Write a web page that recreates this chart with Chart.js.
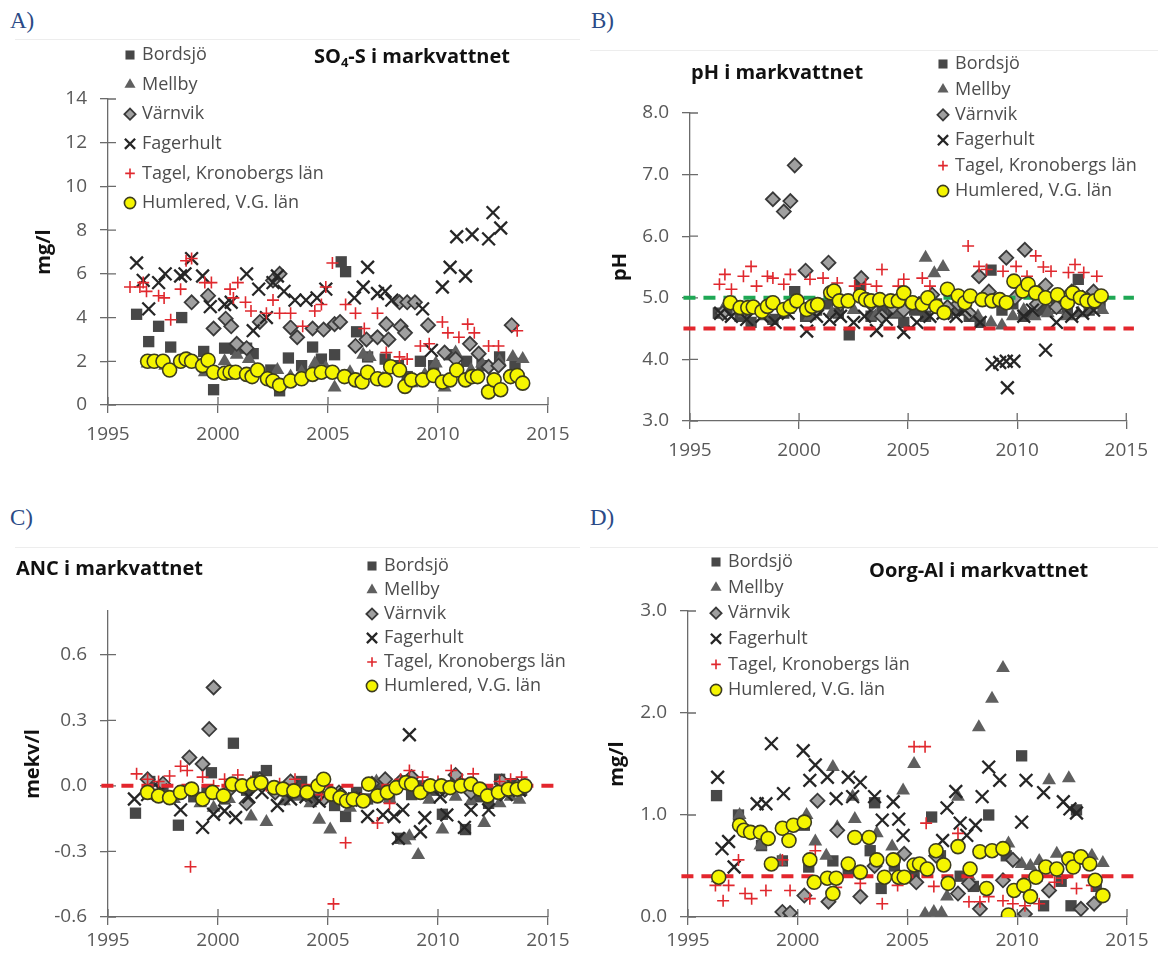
<!DOCTYPE html>
<html>
<head>
<meta charset="utf-8">
<script src="https://cdn.jsdelivr.net/npm/chart.js@4.4.1/dist/chart.umd.min.js"></script>
<style>
    body { margin: 0; background: #fff; }
    #page { position: relative; width: 1158px; height: 962px; overflow: hidden; background: #fff; }
    .tag { position: absolute; font-family: 'Liberation Serif', 'DejaVu Serif', serif; font-size: 23px; color: #2b4a86; }
    .frame { position: absolute; height: 0; border-top: 1px solid #ededed; }
    canvas { position: absolute; }
</style>
</head>
<body>
<div id="page">
    <div class="tag" style="left:10px;top:8px">A)</div>
    <div class="tag" style="left:591px;top:8px">B)</div>
    <div class="tag" style="left:10px;top:505px">C)</div>
    <div class="tag" style="left:590px;top:505px">D)</div>
    <div class="frame" style="left:15px;top:39px;width:565px"></div>
    <div class="frame" style="left:590px;top:50px;width:568px"></div>
    <div class="frame" style="left:15px;top:547px;width:565px"></div>
    <div class="frame" style="left:590px;top:547px;width:568px"></div>
    <canvas id="chA" width="580" height="430" style="left:0;top:40px"></canvas>
    <canvas id="chB" width="578" height="440" style="left:580px;top:40px"></canvas>
    <canvas id="chC" width="580" height="422" style="left:0;top:540px"></canvas>
    <canvas id="chD" width="578" height="422" style="left:580px;top:540px"></canvas>
</div>
<script>
// Sites (legend order)
const SITES = ['Bordsjö', 'Mellby', 'Värnvik', 'Fagerhult', 'Tagel, Kronobergs län', 'Humlered, V.G. län'];
const X_TICKS = [1995, 2000, 2005, 2010, 2015];
const REF_SPAN = [1994.7, 2015.35];

// A) SO4-S i markvattnet (mg/l)  [year, value]
const aTicks = [0, 2, 4, 6, 8, 10, 12, 14];
const aBordsjo = [[1996.3,4.15],[1996.85,2.9],[1997.3,3.6],[1997.85,2.65],[1998.35,4.0],[1999.35,2.45],[1999.8,0.7],[2000.3,2.6],[2000.8,2.55],[2001.3,2.6],[2001.6,2.35],[2002.4,1.6],[2002.8,0.65],[2003.2,2.15],[2003.8,1.8],[2004.3,2.65],[2004.7,2.1],[2005.3,2.3],[2005.6,6.55],[2005.8,6.1],[2006.3,3.35],[2006.8,2.2],[2007.6,2.1],[2008.2,1.8],[2008.6,1.3],[2009.2,2.0],[2009.8,1.8],[2010.5,2.3],[2011.3,2.0],[2012.0,1.8],[2012.8,2.2],[2013.5,1.9]];
const aMellby = [[1996.8,1.9],[1997.6,1.8],[1998.6,2.1],[1999.4,1.5],[2000.3,2.0],[2000.85,2.3],[2001.4,2.1],[2002.0,1.5],[2002.7,1.6],[2003.3,1.3],[2003.8,1.5],[2004.4,1.9],[2004.9,1.7],[2005.3,0.8],[2006.0,1.5],[2006.6,2.3],[2006.9,2.2],[2007.5,1.2],[2008.1,1.6],[2008.8,1.0],[2009.4,1.4],[2009.9,1.9],[2010.3,0.8],[2010.8,2.4],[2011.5,1.6],[2012.0,1.9],[2012.8,2.0],[2013.4,2.2],[2013.85,2.1]];
const aVarnvik = [[1998.8,4.7],[1999.55,5.0],[1999.8,3.5],[2000.35,3.95],[2000.6,3.6],[2000.85,2.8],[2001.3,2.6],[2001.9,3.8],[2002.5,5.7],[2002.8,6.0],[2003.3,3.55],[2003.6,3.1],[2004.3,3.5],[2004.8,3.45],[2005.3,3.7],[2005.55,3.8],[2006.25,2.7],[2006.75,3.0],[2007.25,3.1],[2007.65,3.7],[2007.75,3.0],[2008.25,4.7],[2008.6,4.7],[2008.95,4.7],[2008.3,3.6],[2008.5,3.3],[2009.55,3.65],[2010.3,2.4],[2010.8,2.1],[2011.45,2.8],[2011.85,2.35],[2012.3,1.75],[2012.75,1.8],[2013.35,3.65]];
const aFagerhult = [[1996.3,6.5],[1996.6,5.7],[1996.85,4.4],[1997.3,5.6],[1997.6,6.0],[1998.3,5.9],[1998.5,6.0],[1998.8,6.7],[1999.3,5.9],[1999.65,4.5],[2000.3,4.6],[2000.6,4.7],[2001.3,6.0],[2001.6,3.4],[2001.85,5.3],[2002.2,4.0],[2002.5,5.6],[2002.7,5.9],[2003.0,5.2],[2003.5,4.8],[2004.0,4.8],[2004.5,4.9],[2004.9,5.3],[2006.2,4.9],[2006.6,5.4],[2006.8,6.3],[2007.25,5.1],[2007.6,5.2],[2007.9,4.8],[2009.3,4.4],[2009.7,2.5],[2010.2,5.4],[2010.55,6.3],[2010.85,7.7],[2011.25,5.9],[2011.55,7.8],[2012.3,7.6],[2012.5,8.8],[2012.85,8.1]];
const aTagel = [[1996.0,5.4],[1996.45,5.4],[1996.6,5.6],[1996.75,5.2],[1997.3,5.0],[1997.55,4.9],[1997.85,3.9],[1998.3,5.3],[1998.55,6.6],[1998.8,6.7],[1999.4,5.6],[1999.7,5.6],[2000.55,5.3],[2000.7,4.9],[2000.9,5.6],[2001.25,4.7],[2001.5,4.3],[2002.2,4.2],[2002.5,4.8],[2002.8,4.2],[2003.3,4.2],[2003.85,3.6],[2004.4,4.3],[2004.7,4.6],[2004.9,5.4],[2005.2,6.5],[2005.8,4.6],[2006.25,4.2],[2006.65,3.5],[2007.25,4.2],[2007.65,2.4],[2008.25,2.2],[2008.6,2.1],[2009.2,2.7],[2009.6,2.8],[2010.2,3.8],[2010.45,3.3],[2010.95,3.1],[2011.35,3.7],[2011.65,3.3],[2012.3,2.7],[2012.75,2.7],[2013.6,3.4]];
const aHumlered = [[1996.8,2.0],[1997.1,2.0],[1997.5,2.0],[1997.8,1.6],[1998.3,2.0],[1998.55,2.1],[1998.8,2.0],[1999.3,1.8],[1999.55,2.05],[1999.8,1.5],[2000.3,1.45],[2000.55,1.5],[2000.8,1.5],[2001.3,1.4],[2001.55,1.3],[2001.8,1.6],[2002.25,1.2],[2002.5,1.1],[2002.8,0.9],[2003.3,1.1],[2003.8,1.2],[2004.3,1.4],[2004.7,1.5],[2005.2,1.5],[2005.75,1.3],[2006.25,1.15],[2006.55,1.05],[2006.8,1.5],[2007.25,1.2],[2007.6,1.15],[2007.85,1.75],[2008.25,1.6],[2008.5,0.85],[2008.8,1.15],[2009.3,1.15],[2009.8,1.35],[2010.2,1.05],[2010.55,1.15],[2010.85,1.6],[2011.25,1.15],[2011.55,1.3],[2011.8,1.3],[2012.3,0.6],[2012.55,1.15],[2012.85,0.7],[2013.3,1.3],[2013.6,1.35],[2013.85,1.0]];

// B) pH i markvattnet
const bTicks = [3, 4, 5, 6, 7, 8];
const bRefGreen = 5.0;
const bRefRed = 4.5;
const bBordsjo = [[1996.3,4.75],[1996.7,4.8],[1997.3,4.7],[1997.8,4.6],[1998.3,4.8],[1998.8,4.65],[1999.3,4.75],[1999.8,5.1],[2000.3,4.7],[2000.8,4.8],[2001.3,4.9],[2001.8,4.75],[2002.3,4.4],[2002.8,5.2],[2003.3,4.7],[2003.8,4.8],[2004.3,4.75],[2004.8,4.6],[2005.3,4.8],[2005.8,4.7],[2006.3,4.9],[2006.8,4.75],[2007.3,4.8],[2007.8,4.7],[2008.3,4.6],[2008.8,5.45],[2009.3,4.8],[2009.8,4.9],[2010.3,4.7],[2010.8,4.75],[2011.3,4.8],[2011.8,4.9],[2012.3,4.75],[2012.8,5.3],[2013.3,4.8],[2013.8,4.9]];
const bMellby = [[1996.5,4.8],[1997.5,4.75],[1998.5,4.7],[1999.5,4.8],[2000.5,4.7],[2001.5,4.75],[2002.5,4.8],[2003.5,4.7],[2004.5,4.75],[2005.5,4.9],[2005.8,5.65],[2006.2,5.4],[2006.6,5.5],[2007.3,4.8],[2008.2,4.7],[2008.8,4.6],[2009.3,4.55],[2009.8,4.7],[2010.3,4.8],[2010.8,4.7],[2011.4,4.75],[2011.8,4.8],[2012.3,4.7],[2012.8,4.75],[2013.4,4.8],[2013.9,4.8]];
const bVarnvik = [[1996.5,4.75],[1997.5,4.8],[1998.8,6.6],[1999.3,6.4],[1999.6,6.57],[1999.8,7.15],[2000.3,5.44],[2000.8,4.8],[2001.35,5.57],[2001.9,4.9],[2002.85,5.32],[2003.3,4.9],[2003.8,4.7],[2004.3,4.85],[2004.8,4.8],[2005.5,4.9],[2006.1,5.05],[2006.8,4.85],[2007.3,4.9],[2007.8,4.75],[2008.25,5.35],[2008.7,5.1],[2009.5,5.65],[2009.9,5.0],[2010.35,5.78],[2010.9,4.9],[2011.3,5.2],[2011.8,4.85],[2012.5,5.1],[2013.0,5.0],[2013.5,5.1]];
const bFagerhult = [[1996.4,4.75],[1996.9,4.7],[1997.6,4.65],[1998.3,4.7],[1998.9,4.6],[1999.5,4.75],[2000.35,4.46],[2000.8,4.7],[2001.4,4.65],[2001.9,4.7],[2002.5,4.6],[2003.0,4.7],[2003.55,4.47],[2004.0,4.65],[2004.8,4.44],[2005.4,4.6],[2006.0,4.7],[2006.6,4.75],[2007.2,4.7],[2007.6,4.8],[2008.3,4.6],[2008.85,3.92],[2009.2,3.95],[2009.5,3.97],[2009.85,3.97],[2009.55,3.54],[2010.3,4.7],[2010.7,4.8],[2011.3,4.15],[2011.8,4.6],[2012.5,4.7],[2013.0,4.75],[2013.5,4.8]];
const bTagel = [[1996.35,5.22],[1996.6,5.38],[1996.9,5.14],[1997.45,5.35],[1997.8,5.51],[1998.05,5.19],[1998.55,5.35],[1998.8,5.32],[1999.3,5.22],[1999.6,5.38],[2000.5,5.3],[2001.1,5.32],[2001.75,5.24],[2002.55,5.19],[2003.05,5.22],[2003.55,5.19],[2003.8,5.46],[2004.55,5.19],[2004.8,5.3],[2005.65,5.32],[2006.0,5.19],[2007.75,5.84],[2008.25,5.51],[2008.6,5.46],[2009.35,5.43],[2009.95,5.51],[2010.45,5.35],[2010.85,5.68],[2011.2,5.5],[2011.55,5.43],[2012.35,5.41],[2012.65,5.54],[2013.05,5.41],[2013.65,5.35]];
const bHumlered = [[1996.85,4.92],[1997.3,4.84],[1997.65,4.84],[1997.9,4.85],[1998.3,4.78],[1998.55,4.86],[1998.8,4.92],[1999.3,4.81],[1999.6,4.86],[1999.9,4.95],[2000.35,4.81],[2000.6,4.86],[2000.85,4.89],[2001.45,5.08],[2001.6,5.11],[2001.85,4.95],[2002.25,4.95],[2002.8,5.03],[2003.05,4.97],[2003.3,4.95],[2003.7,4.97],[2004.2,4.95],[2004.55,4.95],[2004.8,5.08],[2005.2,4.92],[2005.65,4.89],[2005.9,5.0],[2006.3,4.86],[2006.65,4.76],[2006.8,5.14],[2007.3,5.03],[2007.6,4.92],[2007.85,5.03],[2008.4,4.97],[2008.85,4.95],[2009.2,4.97],[2009.5,4.92],[2009.85,5.27],[2010.25,5.11],[2010.5,5.22],[2010.85,5.08],[2011.3,5.0],[2011.85,5.05],[2012.3,4.92],[2012.55,5.08],[2012.9,5.0],[2013.2,4.95],[2013.55,4.95],[2013.85,5.03]];

// C) ANC i markvattnet (mekv/l)
const cTicks = [-0.6, -0.3, 0, 0.3, 0.6];
const cRange = [-0.6, 0.8];
const cRefRed = 0;
const cBordsjo = [[1996.25,-0.125],[1996.9,0.02],[1997.5,-0.02],[1998.2,-0.18],[1998.9,-0.05],[1999.5,-0.03],[1999.7,0.06],[2000.3,-0.06],[2000.7,0.195],[2001.3,-0.02],[2001.8,0.04],[2002.2,0.07],[2002.8,-0.02],[2003.3,-0.04],[2003.8,0.02],[2004.3,-0.06],[2004.8,-0.05],[2005.3,-0.09],[2005.8,-0.14],[2006.3,-0.03],[2006.8,-0.06],[2007.3,0.01],[2007.8,-0.05],[2008.3,-0.24],[2008.8,-0.04],[2009.3,0.0],[2009.8,-0.02],[2010.2,-0.13],[2010.8,0.02],[2011.25,-0.2],[2011.8,-0.05],[2012.3,-0.08],[2012.8,0.03],[2013.3,0.01],[2013.8,-0.02]];
const cMellby = [[1997.0,-0.03],[1998.0,-0.06],[1999.2,-0.08],[1999.8,-0.1],[2000.5,-0.06],[2001.5,-0.14],[2002.2,-0.165],[2003.0,-0.07],[2003.6,-0.05],[2004.2,-0.08],[2004.6,-0.155],[2005.1,-0.2],[2006.0,-0.1],[2006.6,-0.07],[2007.2,0.02],[2007.8,-0.06],[2008.5,-0.25],[2008.7,-0.23],[2009.1,-0.316],[2009.6,-0.064],[2010.2,-0.2],[2010.8,-0.05],[2011.5,-0.07],[2012.1,-0.17],[2012.8,-0.08],[2013.3,-0.05],[2013.7,-0.064]];
const cVarnvik = [[1996.8,0.03],[1997.5,0.01],[1998.7,0.13],[1999.3,0.1],[1999.6,0.26],[1999.8,0.45],[2000.5,-0.02],[2001.3,-0.08],[2001.9,0.03],[2002.6,-0.03],[2003.3,0.02],[2004.0,-0.04],[2004.8,-0.06],[2005.5,-0.03],[2006.3,-0.06],[2007.0,0.01],[2007.6,0.03],[2008.3,0.02],[2008.8,0.04],[2009.5,-0.01],[2010.3,-0.02],[2010.8,0.05],[2011.5,-0.03],[2012.3,-0.03],[2012.9,0.02],[2013.6,0.0]];
const cFagerhult = [[1996.2,-0.06],[1996.8,-0.04],[1997.4,-0.02],[1998.3,-0.11],[1999.3,-0.19],[1999.8,-0.13],[2000.3,-0.115],[2000.8,-0.145],[2001.4,-0.05],[2002.0,-0.03],[2002.7,-0.09],[2003.3,-0.06],[2004.0,-0.05],[2004.6,-0.07],[2005.4,-0.03],[2006.2,-0.06],[2006.8,-0.14],[2007.5,-0.133],[2008.0,-0.14],[2008.2,-0.24],[2008.4,-0.11],[2008.7,0.234],[2009.2,-0.21],[2009.4,-0.146],[2010.1,-0.05],[2010.4,-0.133],[2011.2,-0.19],[2011.5,-0.11],[2012.3,-0.11],[2013.1,-0.04],[2013.7,-0.02]];
const cTagel = [[1996.3,0.055],[1996.8,0.03],[1997.3,0.02],[1997.8,0.045],[1998.3,0.09],[1998.6,0.07],[1998.75,-0.37],[1999.3,0.04],[1999.8,0.0],[2000.3,0.03],[2000.9,0.05],[2001.5,0.02],[2002.2,0.0],[2002.8,0.01],[2003.5,0.03],[2004.2,-0.02],[2004.7,-0.04],[2005.25,-0.54],[2005.8,-0.26],[2006.5,-0.06],[2007.25,-0.17],[2007.8,-0.08],[2008.3,0.03],[2008.7,0.07],[2009.3,0.04],[2010.0,0.02],[2010.6,0.07],[2011.1,0.03],[2011.6,0.055],[2012.3,-0.02],[2012.8,0.02],[2013.3,0.03],[2013.8,0.04]];
const cHumlered = [[1996.8,-0.03],[1997.3,-0.046],[1997.8,-0.054],[1998.3,-0.03],[1998.8,-0.015],[1999.3,-0.061],[1999.75,-0.03],[2000.25,-0.046],[2000.65,0.008],[2001.1,0.0],[2001.6,0.008],[2001.95,0.015],[2002.55,-0.008],[2002.95,-0.015],[2003.45,-0.023],[2004.05,-0.03],[2004.55,0.0],[2004.8,0.03],[2005.15,-0.038],[2005.55,-0.054],[2005.85,-0.069],[2006.15,-0.061],[2006.6,-0.069],[2006.85,0.008],[2007.25,-0.046],[2007.7,-0.03],[2008.1,-0.008],[2008.55,0.015],[2008.8,0.008],[2009.2,-0.03],[2009.65,0.0],[2010.15,0.0],[2010.55,-0.008],[2011.05,0.0],[2011.5,0.008],[2011.9,-0.015],[2012.25,-0.046],[2012.75,-0.03],[2013.2,-0.015],[2013.6,-0.015],[2013.95,0.0]];

// D) Oorg-Al i markvattnet (mg/l)
const dTicks = [0, 1, 2, 3];
const dRefRed = 0.4;
const dBordsjo = [[1996.3,1.19],[1997.3,1.0],[1998.35,0.7],[1999.3,0.55],[2000.3,0.9],[2000.5,0.49],[2001.6,0.55],[2002.3,0.45],[2003.3,0.65],[2003.5,1.12],[2003.8,0.28],[2004.4,0.5],[2005.3,0.4],[2006.1,0.98],[2006.5,0.6],[2007.4,0.4],[2008.0,0.3],[2008.7,1.0],[2009.5,0.6],[2010.2,1.58],[2010.9,0.4],[2011.2,0.11],[2012.0,0.35],[2012.45,0.11],[2012.7,1.05],[2013.6,0.3]];
const dMellby = [[1996.35,0.38],[1997.35,1.0],[1998.3,0.7],[1999.2,0.55],[2000.4,1.0],[2000.8,0.74],[2001.3,0.6],[2001.6,1.47],[2001.8,0.88],[2002.6,0.96],[2002.5,1.18],[2003.6,0.82],[2004.3,0.69],[2004.8,1.24],[2005.3,1.5],[2005.8,0.03],[2006.2,0.05],[2006.55,0.04],[2006.8,0.2],[2007.3,1.18],[2007.8,0.4],[2008.25,1.86],[2008.85,2.14],[2009.35,2.44],[2009.6,0.72],[2010.2,0.52],[2010.6,0.5],[2011.0,0.55],[2011.45,1.34],[2011.8,0.62],[2012.35,1.36],[2012.8,0.55],[2013.4,0.6],[2013.9,0.53]];
const dVarnvik = [[1999.3,0.05],[1999.65,0.04],[2000.3,0.21],[2000.9,1.14],[2001.4,0.15],[2001.8,0.85],[2002.85,0.2],[2003.5,0.5],[2004.85,0.62],[2005.4,0.34],[2006.3,0.6],[2007.3,0.23],[2007.8,0.33],[2008.3,0.08],[2009.35,0.36],[2009.8,0.56],[2010.35,0.03],[2011.45,0.26],[2012.9,0.08],[2013.5,0.13]];
const dFagerhult = [[1996.35,1.37],[1996.55,0.67],[1996.85,0.74],[1997.1,0.49],[1998.15,1.11],[1998.55,1.11],[1998.8,1.7],[1999.35,1.21],[2000.25,1.63],[2000.55,1.34],[2000.8,1.49],[2001.35,1.37],[2001.75,1.16],[2002.3,1.37],[2002.5,1.18],[2002.85,1.32],[2003.5,1.18],[2003.85,0.95],[2004.35,1.13],[2004.6,0.96],[2004.8,0.8],[2006.6,0.75],[2006.8,1.07],[2007.2,1.23],[2007.4,0.92],[2007.7,0.8],[2008.1,0.9],[2008.4,1.18],[2008.7,1.47],[2009.2,1.34],[2010.2,0.93],[2010.4,1.34],[2011.2,1.22],[2012.1,1.13],[2012.4,1.06],[2012.7,1.02]];
const dTagel = [[1996.25,0.31],[1996.6,0.16],[1996.85,0.31],[1997.3,0.56],[1997.6,0.23],[1997.9,0.18],[1998.55,0.26],[1999.3,0.56],[1999.65,0.26],[2000.55,0.18],[2000.8,0.65],[2001.75,0.29],[2002.85,0.33],[2003.85,0.13],[2004.55,0.31],[2005.3,1.67],[2005.8,1.67],[2005.85,0.92],[2006.2,0.3],[2007.3,0.82],[2007.8,0.15],[2008.3,0.15],[2008.7,0.2],[2009.35,0.16],[2009.8,0.13],[2010.35,0.11],[2011.0,0.13],[2011.7,0.34],[2012.05,0.38],[2012.7,0.28],[2013.4,0.31]];
const dHumlered = [[1996.4,0.39],[1997.35,0.9],[1997.55,0.85],[1997.85,0.83],[1998.3,0.83],[1998.65,0.77],[1998.8,0.52],[1999.3,0.87],[1999.6,0.75],[1999.8,0.9],[2000.3,0.93],[2000.55,0.56],[2000.75,0.34],[2001.35,0.38],[2001.6,0.23],[2001.75,0.38],[2002.3,0.52],[2002.6,0.78],[2002.85,0.44],[2003.25,0.78],[2003.6,0.56],[2003.95,0.39],[2004.35,0.56],[2004.6,0.39],[2004.85,0.39],[2005.3,0.51],[2005.55,0.52],[2005.9,0.47],[2006.3,0.65],[2006.65,0.51],[2006.85,0.33],[2007.3,0.69],[2007.85,0.47],[2008.3,0.64],[2008.6,0.28],[2008.85,0.65],[2009.35,0.67],[2009.6,0.02],[2009.85,0.26],[2010.3,0.31],[2010.6,0.2],[2010.85,0.39],[2011.3,0.49],[2011.8,0.47],[2012.35,0.57],[2012.55,0.49],[2012.9,0.59],[2013.3,0.52],[2013.55,0.36],[2013.9,0.21]];

// Look
const AXIS = '#6b6b6b';
const TICK_TEXT = '#595959';
const FONT = "'Open Sans', 'Liberation Sans', sans-serif";
const MARKERS = [
    { style: 'rect', r: 8, fill: '#474747', line: '#474747', w: 0 },
    { style: 'triangle', r: 8, fill: '#5f5f5f', line: '#5f5f5f', w: 0 },
    { style: 'rectRot', r: 7, fill: '#a0a0a0', line: '#3a3a3a', w: 1.8 },
    { style: 'crossRot', r: 9, fill: '#262626', line: '#262626', w: 2.3 },
    { style: 'cross', r: 6, fill: '#e0282e', line: '#e0282e', w: 1.6 },
    { style: 'circle', r: 7, fill: '#f5f500', line: '#3c3c1e', w: 1.6 }
];

Chart.defaults.font.family = FONT;

// crossing tick marks, chart title and the legend block
const decor = {
    id: 'decor',
    beforeDatasetsDraw(chart) {
        const { ctx, chartArea: a, scales: { x, y } } = chart;
        ctx.save();
        ctx.strokeStyle = AXIS;
        ctx.lineWidth = 1.3;
        ctx.beginPath();
        x.ticks.forEach(t => {
            const px = x.getPixelForValue(t.value);
            ctx.moveTo(px, a.bottom);
            ctx.lineTo(px, a.bottom - 8);
        });
        y.ticks.forEach(t => {
            const py = y.getPixelForValue(t.value);
            ctx.moveTo(a.left, py);
            ctx.lineTo(a.left + 8, py);
        });
        ctx.stroke();
        ctx.restore();
    },
    afterDraw(chart, args, o) {
        const ctx = chart.ctx;
        ctx.save();
        // title (with optional subscript part)
        let tx = o.title.x;
        ctx.fillStyle = '#111';
        ctx.textBaseline = 'middle';
        ctx.textAlign = 'left';
        o.title.parts.forEach(p => {
            ctx.font = p.sub ? `bold 13px ${FONT}` : `bold 20px ${FONT}`;
            ctx.fillText(p.text, tx, o.title.y + (p.sub ? 6 : 0));
            tx += ctx.measureText(p.text).width;
        });
        // legend
        const L = o.legend;
        chart.data.datasets.slice(0, SITES.length).forEach((ds, i) => {
            const cy = L.y + i * L.dy;
            ctx.fillStyle = ds.pointBackgroundColor;
            ctx.strokeStyle = ds.pointBorderColor;
            ctx.lineWidth = ds.pointBorderWidth;
            Chart.helpers.drawPoint(ctx, {
                pointStyle: ds.pointStyle,
                radius: ds.pointRadius * 0.8,
                rotation: 0,
                borderWidth: ds.pointBorderWidth
            }, L.x, cy);
            ctx.fillStyle = '#4d4d4d';
            ctx.font = `18px ${FONT}`;
            ctx.fillText(ds.label, L.x + 12, cy);
        });
        ctx.restore();
    }
};

function makePanel(id, p) {
    const canvas = document.getElementById(id);
    const W = canvas.width, H = canvas.height;

    const datasets = p.series.map((arr, i) => ({
        label: SITES[i],
        data: arr.map(([x, y]) => ({ x, y })),
        pointStyle: MARKERS[i].style,
        pointRadius: MARKERS[i].r,
        pointHoverRadius: MARKERS[i].r,
        pointBackgroundColor: MARKERS[i].fill,
        pointBorderColor: MARKERS[i].line,
        pointBorderWidth: MARKERS[i].w,
        order: 30 - i * 2
    }));
    p.refs.forEach(ref => {
        datasets.push({
            label: '',
            data: [{ x: REF_SPAN[0], y: ref.y }, { x: REF_SPAN[1], y: ref.y }],
            showLine: true,
            pointRadius: 0,
            borderColor: ref.color,
            borderWidth: 4,
            borderDash: [12, 8],
            clip: false,
            order: 21
        });
    });

    return new Chart(canvas, {
        type: 'scatter',
        data: { datasets },
        plugins: [decor],
        options: {
            responsive: false,
            animation: false,
            devicePixelRatio: 1,
            events: [],
            layout: { padding: { left: 0, top: p.area.top, right: W - p.area.right, bottom: 0 } },
            plugins: {
                legend: { display: false },
                tooltip: { enabled: false },
                decor: { title: p.title, legend: p.legend }
            },
            scales: {
                x: {
                    type: 'linear',
                    min: X_TICKS[0],
                    max: X_TICKS[X_TICKS.length - 1],
                    afterBuildTicks: s => { s.ticks = X_TICKS.map(v => ({ value: v })); },
                    afterFit: s => { s.height = H - p.area.bottom; },
                    border: { color: AXIS, width: 1.3 },
                    grid: { drawOnChartArea: false, color: AXIS, lineWidth: 1.3, tickLength: 8 },
                    ticks: {
                        color: TICK_TEXT,
                        font: { size: 19 },
                        padding: p.xPad,
                        maxRotation: 0,
                        autoSkip: false,
                        callback: v => String(v)
                    }
                },
                y: {
                    type: 'linear',
                    min: p.range[0],
                    max: p.range[1],
                    afterBuildTicks: s => { s.ticks = p.ticks.map(v => ({ value: v })); },
                    afterFit: s => { s.width = p.area.left; },
                    border: { color: AXIS, width: 1.3 },
                    grid: { drawOnChartArea: false, color: AXIS, lineWidth: 1.3, tickLength: 8 },
                    title: {
                        display: true,
                        text: p.yTitle,
                        color: '#111',
                        font: { size: 20, weight: 'bold' },
                        padding: { top: p.titlePad, bottom: 0 }
                    },
                    ticks: {
                        color: TICK_TEXT,
                        font: { size: 19 },
                        padding: 13,
                        autoSkip: false,
                        callback: v => v.toFixed(p.dec)
                    }
                }
            }
        }
    });
}

makePanel('chA', {
    series: [aBordsjo, aMellby, aVarnvik, aFagerhult, aTagel, aHumlered],
    refs: [],
    ticks: aTicks, range: [aTicks[0], aTicks[aTicks.length - 1]], dec: 0,
    yTitle: 'mg/l', titlePad: 32,
    area: { left: 108, top: 59, right: 548, bottom: 365 }, xPad: 10,
    title: { x: 314, y: 17, parts: [{ text: 'SO' }, { text: '4', sub: true }, { text: '-S i markvattnet' }] },
    legend: { x: 130, y: 15, dy: 29.6 }
});

makePanel('chB', {
    series: [bBordsjo, bMellby, bVarnvik, bFagerhult, bTagel, bHumlered],
    refs: [{ y: bRefGreen, color: '#1fa855' }, { y: bRefRed, color: '#e3262d' }],
    ticks: bTicks, range: [bTicks[0], bTicks[bTicks.length - 1]], dec: 1,
    yTitle: 'pH', titlePad: 28,
    area: { left: 110, top: 73, right: 550, bottom: 381 }, xPad: 10,
    title: { x: 111, y: 33, parts: [{ text: 'pH i markvattnet' }] },
    legend: { x: 363, y: 24, dy: 25.4 }
});

makePanel('chC', {
    series: [cBordsjo, cMellby, cVarnvik, cFagerhult, cTagel, cHumlered],
    refs: [{ y: cRefRed, color: '#e3262d' }],
    ticks: cTicks, range: cRange, dec: 1,
    yTitle: 'mekv/l', titlePad: 21,
    area: { left: 108, top: 71, right: 548, bottom: 377 }, xPad: 4,
    title: { x: 16, y: 29, parts: [{ text: 'ANC i markvattnet' }] },
    legend: { x: 372, y: 26, dy: 24 }
});

makePanel('chD', {
    series: [dBordsjo, dMellby, dVarnvik, dFagerhult, dTagel, dHumlered],
    refs: [{ y: dRefRed, color: '#e3262d' }],
    ticks: dTicks, range: [dTicks[0], dTicks[dTicks.length - 1]], dec: 1,
    yTitle: 'mg/l', titlePad: 25,
    area: { left: 108, top: 71, right: 547, bottom: 377 }, xPad: 4,
    title: { x: 289, y: 31, parts: [{ text: 'Oorg-Al i markvattnet' }] },
    legend: { x: 136, y: 22, dy: 25.6 }
});
</script>
</body>
</html>
